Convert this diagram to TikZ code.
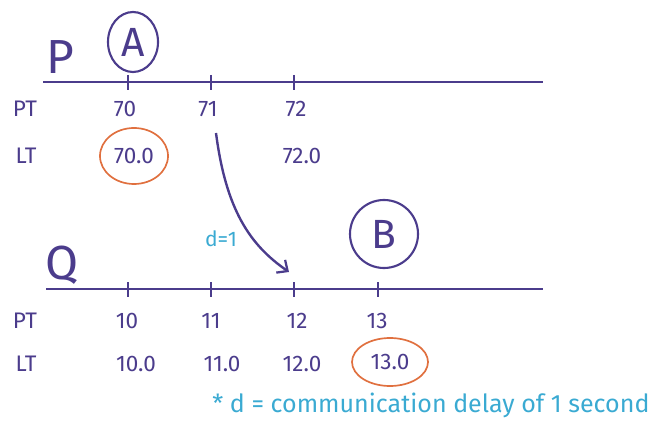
\documentclass[tikz,border=0pt]{standalone}
\usepackage{fontspec}
\setmainfont{Fira Sans}
\usepackage{xcolor}
\usetikzlibrary{arrows.meta,positioning,shapes.geometric}

\definecolor{ink}{HTML}{4B3C8C}
\definecolor{hilite}{HTML}{E0703F}
\definecolor{remark}{HTML}{3AAAD2}

\begin{document}
\begin{tikzpicture}[
  x=0.025cm, y=-0.025cm,
  >={Straight Barb[length=6pt,width=11pt,line width=1.6pt]},
  axis/.style={ink, line width=1.7pt},
  tickmark/.style={ink, line width=1.3pt},
  lbl/.style={ink, font=\fontsize{16}{18}\selectfont, inner sep=0pt},
  proc/.style={ink, font=\fontsize{34}{36}\selectfont, inner sep=0pt},
  evt/.style={
    ink, draw, ellipse,
    line width=1.5pt,
    inner sep=0pt,
    font=\fontsize{29}{30}\selectfont
  },
  hl/.style={lbl, draw=hilite, ellipse, line width=1.2pt},
  msg/.style={->, ink, line width=1.7pt},
  note/.style={remark, inner sep=0pt}
]
  \useasboundingbox (0,0) rectangle (655,431);

  % process P
  \node[proc] (pname) at (60,57) {P};
  \draw[axis] (43,82) -- (543,82);
  \foreach \x in {128,211,294}
    \draw[tickmark] (\x,75) -- (\x,90);
  \node[evt, minimum width=1.25cm, minimum height=1.5cm] (evA) at (133,42) {A};
  \node[lbl] (ppt) at (25,109) {PT};
  \node[lbl] (plt) at (26,156) {LT};
  \node[lbl] (p70) at (125,109) {70};
  \node[lbl] (p71) at (208,109) {71};
  \node[lbl] (p72) at (296,109) {72};
  \node[hl, minimum width=1.7cm, minimum height=1.4cm] (l70) at (134,156) {70.0};
  \node[lbl] (l72) at (302,156) {72.0};

  % process Q
  \node[proc] (qname) at (62,265) {Q};
  \draw[axis] (46,289) -- (543,289);
  \foreach \x in {128,211,294,378}
    \draw[tickmark] (\x,282) -- (\x,297);
  \node[evt, minimum width=1.7cm, minimum height=1.7cm] (evB) at (384,234) {B};
  \node[lbl] (qpt) at (25,321) {PT};
  \node[lbl] (qlt) at (26,364) {LT};
  \node[lbl] (q10) at (127,321) {10};
  \node[lbl] (q11) at (211,321) {11};
  \node[lbl] (q12) at (297,321) {12};
  \node[lbl] (q13) at (377,321) {13};
  \node[lbl] (l10) at (136,364) {10.0};
  \node[lbl] (l11) at (222,364) {11.0};
  \node[lbl] (l12) at (302,364) {12.0};
  \node[hl, minimum width=1.9cm, minimum height=1.2cm] (l13) at (390,362) {13.0};

  % message
  \coordinate (send) at (216,133);
  \coordinate (recv) at (289,272);
  \draw[msg] (send) .. controls (226,210) and (250,245) .. (recv);
  \node[note, font=\fontsize{15}{17}\selectfont] (delay) at (221,239) {d=1};

  \node[note, anchor=west, font=\fontsize{17.8}{20}\selectfont] (foot) at (212,405)
    {* d = communication delay of 1 second};
\end{tikzpicture}
\end{document}
